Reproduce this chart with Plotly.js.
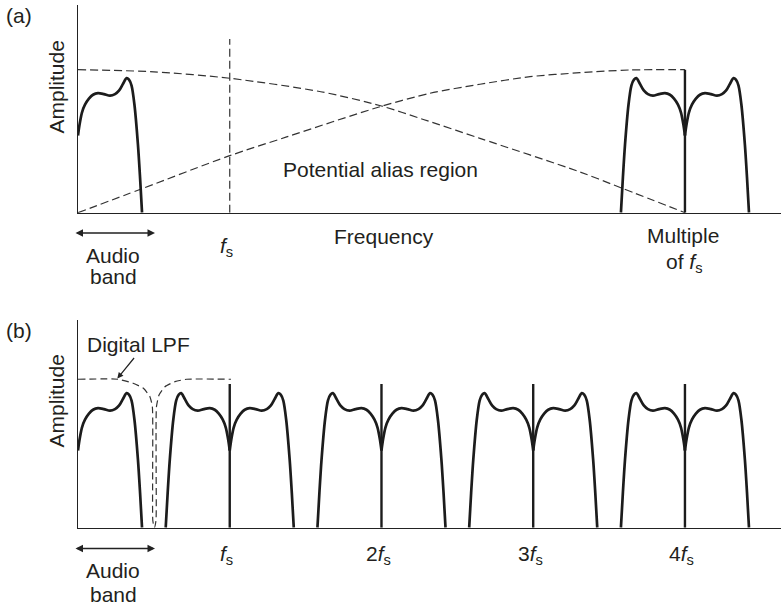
<!DOCTYPE html>
<html><head><meta charset="utf-8">
<script src="https://cdn.plot.ly/plotly-3.0.1.min.js"></script>
<style>html,body{margin:0;padding:0;background:#fff;} #chart{width:781px;height:606px;}</style>
</head><body><div id="chart"></div>
<script>
// Frequency in multiples of fs, amplitude normalised (1 = dashed envelope max)
const lobeOffset = [0, 0.010, 0.026, 0.046, 0.072, 0.099, 0.132, 0.171, 0.211, 0.244, 0.270, 0.297, 0.320, 0.336, 0.353, 0.372, 0.395, 0.409, 0.422];
const lobeAmp    = [0.54, 0.615, 0.700, 0.755, 0.797, 0.825, 0.836, 0.829, 0.818, 0.829, 0.853, 0.902, 0.941, 0.930, 0.888, 0.755, 0.476, 0.245, 0];

const imageCentersA = [4];
const imageTopsA = [1.0];
const imageCentersB = [1, 2, 3, 4];
const imageTopsB = [1.005, 1.005, 1.005, 1.005];

const fallX = [0, 0.5, 1.0, 1.6, 2.0, 2.276, 2.649, 3.308, 3.593, 4.0];
const fallY = [1.0, 0.985, 0.94, 0.846, 0.746, 0.652, 0.52, 0.285, 0.168, 0];
const riseX = [0, 0.417, 0.995, 1.375, 1.99, 2.32, 2.649, 2.979, 3.308, 3.638, 4.0];
const riseY = [0, 0.166, 0.397, 0.53, 0.741, 0.835, 0.898, 0.951, 0.979, 0.998, 1.0];
const fsMarkX = [1, 1];
const fsMarkY = [0, 1.215];

const lpfX = [0, 0.264, 0.363, 0.431, 0.474, 0.490, 0.492, 0.493, 0.503, 0.514, 0.515, 0.517, 0.534, 0.573, 0.639, 0.716, 1.008];
const lpfY = [1.038, 1.038, 1.01, 0.975, 0.916, 0.846, 0.40, 0.05, 0, 0.05, 0.40, 0.846, 0.928, 0.986, 1.021, 1.038, 1.038];

const tickValsB = [1, 2, 3, 4];
const tickTextB = ['<i>f</i><sub>s</sub>', '2<i>f</i><sub>s</sub>', '3<i>f</i><sub>s</sub>', '4<i>f</i><sub>s</sub>'];

function lobes(centers, withBase) {
  const x = [], y = [];
  if (withBase) {
    lobeOffset.forEach((o, i) => { x.push(o); y.push(lobeAmp[i]); });
    x.push(null); y.push(null);
  }
  centers.forEach(c => {
    lobeOffset.forEach((o, i) => { x.push(c - o); y.push(lobeAmp[i]); });
    x.push(null); y.push(null);
    lobeOffset.forEach((o, i) => { x.push(c + o); y.push(lobeAmp[i]); });
    x.push(null); y.push(null);
  });
  return {x, y};
}
function vlines(centers, tops) {
  const x = [], y = [];
  centers.forEach((c, i) => { x.push(c, c, null); y.push(0, tops[i], null); });
  return {x, y};
}

const ink = '#1c1c1c';
const dashInk = '#333333';
const la = lobes(imageCentersA, true), lb = lobes(imageCentersB, true);
const va = vlines(imageCentersA, imageTopsA), vb = vlines(imageCentersB, imageTopsB);

const traces = [
  {x: fallX, y: fallY, xaxis: 'x', yaxis: 'y', mode: 'lines', line: {color: dashInk, width: 1.2, dash: '8px,4px', shape: 'spline', smoothing: 0.8}},
  {x: riseX, y: riseY, xaxis: 'x', yaxis: 'y', mode: 'lines', line: {color: dashInk, width: 1.2, dash: '8px,4px', shape: 'spline', smoothing: 0.8}},
  {x: fsMarkX, y: fsMarkY, xaxis: 'x', yaxis: 'y', mode: 'lines', line: {color: dashInk, width: 1.2, dash: '8px,4px'}},
  {x: la.x, y: la.y, xaxis: 'x', yaxis: 'y', mode: 'lines', connectgaps: false, line: {color: ink, width: 2.7, shape: 'spline', smoothing: 0.8}},
  {x: va.x, y: va.y, xaxis: 'x', yaxis: 'y', mode: 'lines', connectgaps: false, line: {color: ink, width: 2.4}},
  {x: lpfX, y: lpfY, xaxis: 'x2', yaxis: 'y2', mode: 'lines', line: {color: dashInk, width: 1.2, dash: '7px,4px', shape: 'spline', smoothing: 0.5}},
  {x: lb.x, y: lb.y, xaxis: 'x2', yaxis: 'y2', mode: 'lines', connectgaps: false, line: {color: ink, width: 2.7, shape: 'spline', smoothing: 0.8}},
  {x: vb.x, y: vb.y, xaxis: 'x2', yaxis: 'y2', mode: 'lines', connectgaps: false, line: {color: ink, width: 2.4}}
];

const W = 781, H = 606;
const px = v => v / W, py = v => 1 - v / H;
const font = {family: 'Liberation Sans, Arial, Helvetica, sans-serif', size: 21, color: '#231f20'};
function lab(text, x, y, extra) {
  return Object.assign({text, x: px(x), y: py(y), xref: 'paper', yref: 'paper', showarrow: false, font, xanchor: 'center', yanchor: 'middle'}, extra || {});
}
function arrow2(x1, x2, y) {
  return {text: '', x: px(x2), y: py(y), xref: 'paper', yref: 'paper', ax: x1 - x2, ay: 0, showarrow: true,
          arrowhead: 2, startarrowhead: 2, arrowside: 'end+start', arrowsize: 1, startarrowsize: 1, arrowwidth: 1.5, arrowcolor: '#222', standoff: 0, startstandoff: 0};
}

const annotations = [
  lab('(a)', 18.5, 16),
  lab('Amplitude', 55.5, 87, {textangle: -90}),
  {text: tickTextB[0], x: 1, xref: 'x', y: py(247), yref: 'paper', xshift: -3, showarrow: false, font, xanchor: 'center', yanchor: 'middle'},
  lab('Frequency', 384, 236),
  lab('Multiple', 683, 235.5),
  lab('of <i>f</i><sub>s</sub>', 684, 263),
  lab('Audio', 113, 255.5),
  lab('band', 113, 276.5),
  arrow2(74, 155, 233),
  lab('Potential alias region', 380, 170),
  lab('(b)', 18.5, 330),
  lab('Digital LPF', 138.5, 344),
  {text: '', x: px(117.3), y: py(378.5), xref: 'paper', yref: 'paper', ax: 18, ay: -22, showarrow: true,
   arrowhead: 2, arrowsize: 1, arrowwidth: 1.2, arrowcolor: '#222', standoff: 0},
  lab('Amplitude', 55.5, 401, {textangle: -90}),
  lab('Audio', 113, 570.5),
  lab('band', 113, 594),
  arrow2(74, 155, 548.5)
];
tickValsB.forEach((v, i) => {
  annotations.push({text: tickTextB[i], x: v, xref: 'x2', y: py(554.5), yref: 'paper', xshift: -3, showarrow: false, font, xanchor: 'center', yanchor: 'middle'});
});

const xrange = [0, 4.633];
const yrange = [0, 1.4524];
const axX = () => ({domain: [78 / W, 1], range: xrange, showline: true, linecolor: '#222', linewidth: 1.5, showgrid: false, zeroline: false, showticklabels: false, ticks: '', fixedrange: true});
const axY = d => ({domain: d, range: yrange, showline: true, linecolor: '#222', linewidth: 1.3, showgrid: false, zeroline: false, showticklabels: false, ticks: '', fixedrange: true});

const layout = {
  width: W, height: H,
  margin: {l: 0, r: 0, t: 0, b: 0},
  paper_bgcolor: '#ffffff', plot_bgcolor: '#ffffff',
  showlegend: false,
  xaxis: Object.assign(axX(), {anchor: 'y'}),
  yaxis: Object.assign(axY([1 - 212.7 / H, 1 - 5 / H]), {anchor: 'x'}),
  xaxis2: Object.assign(axX(), {anchor: 'y2'}),
  yaxis2: Object.assign(axY([1 - 527.7 / H, 1 - 320 / H]), {anchor: 'x2'}),
  annotations
};

Plotly.newPlot('chart', traces, layout, {displayModeBar: false, staticPlot: true});
</script>
</body></html>
